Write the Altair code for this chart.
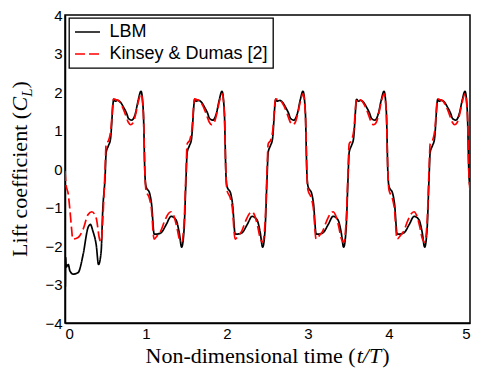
import altair as alt
import pandas as pd

# ---- data ----
series_names = ["LBM", "Kinsey & Dumas [2]"]

# start-up transient (t/T < ~0.49)
lbm_transient_t = [0.0, 0.004, 0.008, 0.015, 0.04, 0.061, 0.101, 0.162, 0.223, 0.283, 0.313, 0.344, 0.386, 0.414, 0.446, 0.466]
lbm_transient_c = [-1.0, -3.05, -2.3, -2.55, -2.48, -2.65, -2.73, -2.69, -2.23, -1.53, -1.44, -1.61, -1.98, -2.48, -2.15, -1.07]

red_transient_t = [0.0, 0.012, 0.04, 0.061, 0.082, 0.095, 0.162, 0.223, 0.283, 0.332, 0.386, 0.426, 0.446, 0.466]
red_transient_c = [-0.05, -0.4, -0.65, -1.07, -1.57, -1.82, -1.78, -1.57, -1.19, -1.11, -1.28, -1.82, -1.9, -1.32]

# one periodic cycle (read from the 2nd cycle), repeated every period
lbm_cycle_t = [0.495, 0.508, 0.535, 0.561, 0.602, 0.620, 0.650, 0.690, 0.724, 0.760, 0.785, 0.825, 0.870, 0.905, 0.938, 0.967, 0.987,
               0.999, 1.047, 1.068, 1.101, 1.129, 1.160, 1.190, 1.250, 1.310, 1.370, 1.410, 1.440, 1.470]
lbm_cycle_c = [-0.20, 0.43, 0.60, 0.77, 1.81, 1.76, 1.78, 1.72, 1.60, 1.45, 1.31, 1.27, 1.45, 1.80, 2.02, 1.50, -0.15,
               -0.44, -0.65, -0.90, -1.69, -1.69, -1.68, -1.65, -1.44, -1.23, -1.32, -1.65, -2.03, -1.57]

red_cycle_t = [0.495, 0.508, 0.540, 0.565, 0.600, 0.630, 0.660, 0.700, 0.740, 0.780, 0.810, 0.840, 0.875, 0.905, 0.940, 0.967, 0.987,
               1.000, 1.040, 1.065, 1.100, 1.140, 1.180, 1.230, 1.280, 1.310, 1.340, 1.380, 1.410, 1.440, 1.470]
red_cycle_c = [0.00, 0.65, 0.75, 1.00, 1.82, 1.80, 1.78, 1.65, 1.45, 1.22, 1.15, 1.20, 1.45, 1.75, 1.95, 1.45, -0.15,
               -0.55, -0.75, -1.00, -1.82, -1.73, -1.62, -1.35, -1.15, -1.11, -1.20, -1.50, -1.80, -1.90, -1.40]

periods = [0, 1, 2, 3, 4]
x_ticks = [0, 1, 2, 3, 4, 5]
y_ticks = [-4, -3, -2, -1, 0, 1, 2, 3, 4]

# ---- build table ----
rows = []
for name, tt, cc, ct, ccyc in [
    (series_names[0], lbm_transient_t, lbm_transient_c, lbm_cycle_t, lbm_cycle_c),
    (series_names[1], red_transient_t, red_transient_c, red_cycle_t, red_cycle_c),
]:
    for t, c in zip(tt, cc):
        rows.append((name, t, c))
    for k in periods:
        for t, c in zip(ct, ccyc):
            if t + k <= 5.0:
                rows.append((name, round(t + k, 4), c))
df = pd.DataFrame(rows, columns=["series", "t", "cl"])
df["order"] = range(len(df))

color_scale = alt.Scale(domain=series_names, range=["#000000", "#ff0000"])
dash_scale = alt.Scale(domain=series_names, range=[[1, 0], [10, 4]])

LINE_SYMBOL = "M-2,0H2"
legend = alt.Legend(symbolType=LINE_SYMBOL)

base = alt.Chart(df).mark_line(strokeWidth=1.7, clip=True, interpolate="monotone").encode(
    x=alt.X("t:Q", scale=alt.Scale(domain=[0, 5], nice=False),
            axis=alt.Axis(values=x_ticks, format="d", title=None)),
    y=alt.Y("cl:Q", scale=alt.Scale(domain=[-4, 4], nice=False),
            axis=alt.Axis(values=y_ticks, format="d", title=None)),
    color=alt.Color("series:N", scale=color_scale, title=None, legend=legend),
    strokeDash=alt.StrokeDash("series:N", scale=dash_scale, title=None, legend=legend),
    order="order:Q",
)

lbm_layer = base.transform_filter(alt.datum.series == series_names[0])
red_layer = base.transform_filter(alt.datum.series == series_names[1])

# ---- axis titles as text (mixed roman / italic) ----
title_parts = [
    # text, x, y, angle, style, size
    ("Non-dimensional time (", 80.5, 348, 0, "normal", 22),
    ("t/T", 291.7, 348, 0, "italic", 22),
    (")", 317.2, 348, 0, "normal", 22),
    ("Lift coefficient (", -38, 241.9, 270, "normal", 22),
    ("C", -38, 96.5, 270, "italic", 22),
    ("L", -33, 81.8, 270, "italic", 15),
    (")", -38, 73.5, 270, "normal", 22),
]
title_layers = []
for txt, x, y, ang, style, size in title_parts:
    title_layers.append(
        alt.Chart(alt.Data(values=[{"k": 1}])).mark_text(
            text=txt, align="left", baseline="alphabetic", angle=ang,
            font="Liberation Serif", fontSize=size, fontStyle=style, color="black",
        ).encode(x=alt.value(x), y=alt.value(y))
    )

chart = alt.layer(lbm_layer, red_layer, *title_layers).properties(
    width=405, height=308,
    padding={"left": 57, "top": 7, "right": 1, "bottom": 45},
    autosize=alt.AutoSizeParams(type="none"),
).configure_view(
    stroke="black", strokeWidth=1.5
).configure_axis(
    domainColor="black", domainWidth=1.5, ticks=False, grid=False,
    labelFont="Liberation Sans", labelFontSize=15, labelColor="black", labelPadding=3,
).configure_legend(
    orient="none", legendX=4, legendY=3, strokeColor="black", fillColor="white",
    padding=5, symbolSize=156, symbolStrokeWidth=1.5, symbolOffset=4.5,
    labelFont="Liberation Sans", labelFontSize=18, labelColor="black", labelOffset=13,
    rowPadding=4, cornerRadius=0, strokeWidth=1.3,
)

chart.save("out.html", embed_options={"renderer": "svg", "actions": False})
